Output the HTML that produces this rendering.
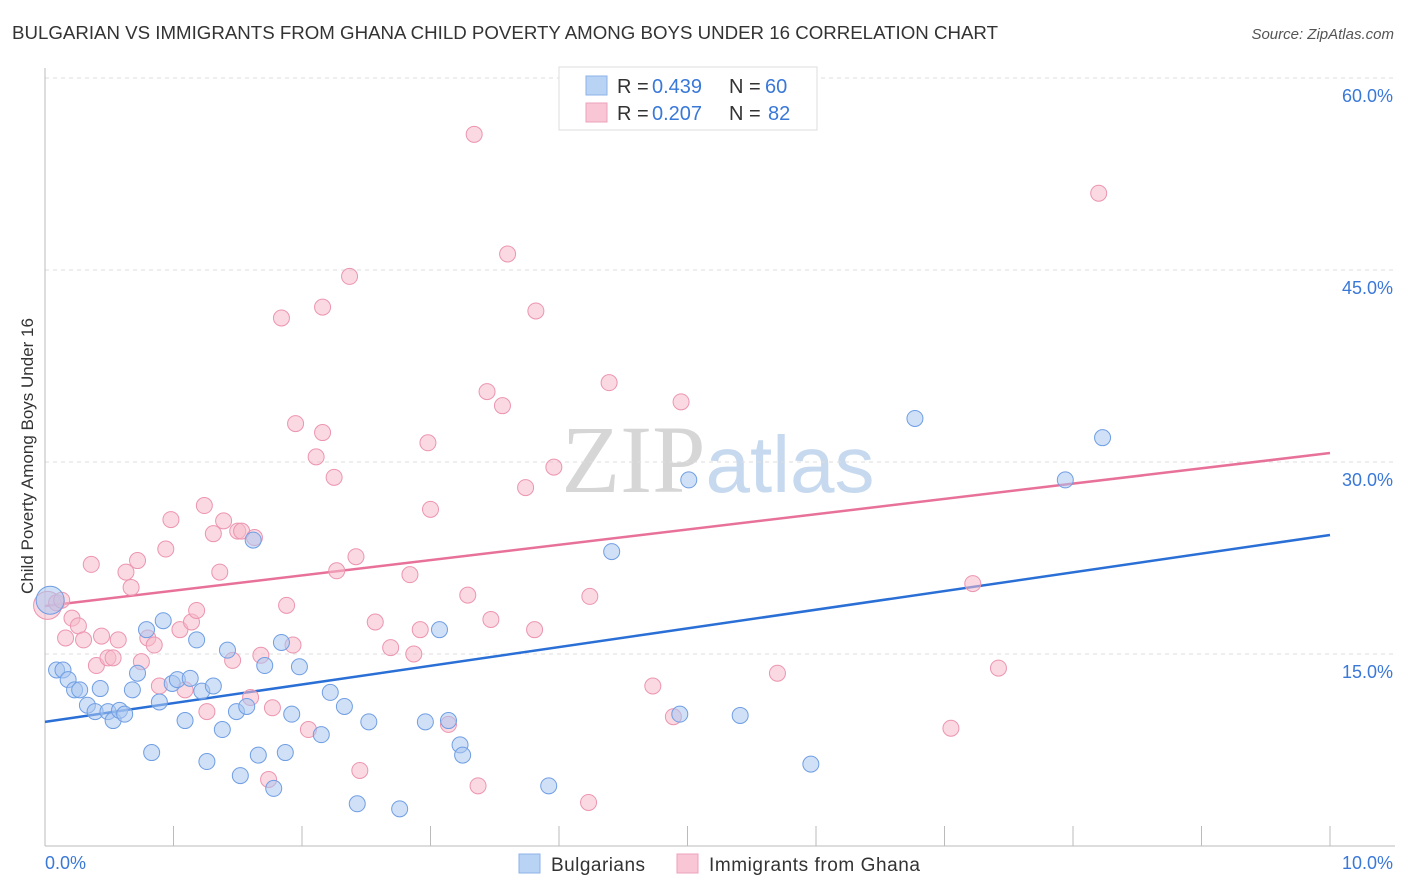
<!DOCTYPE html>
<html><head><meta charset="utf-8"><style>
body{margin:0;background:#fff;font-family:"Liberation Sans",sans-serif;}
svg{display:block}
</style></head><body>
<svg id="chart" width="1406" height="892" xmlns="http://www.w3.org/2000/svg">
<text x="12" y="39" font-size="18" fill="#333" textLength="986" lengthAdjust="spacingAndGlyphs">BULGARIAN VS IMMIGRANTS FROM GHANA CHILD POVERTY AMONG BOYS UNDER 16 CORRELATION CHART</text>
<text x="1394" y="39" font-size="15" fill="#555" text-anchor="end" font-style="italic">Source: ZipAtlas.com</text>
<text transform="translate(33,456) rotate(-90)" font-size="17" fill="#333" text-anchor="middle">Child Poverty Among Boys Under 16</text>
<text x="718" y="492" font-size="96" text-anchor="middle" fill="#dde3ea"><tspan font-family="Liberation Serif" fill="#d6d6d6">ZIP</tspan><tspan fill="#c6d9ef" font-size="80">atlas</tspan></text>
<g id="grid"></g><g id="axes"></g><g id="trend"></g><g id="pts"></g>
<g>
<rect x="559" y="67" width="258" height="63" fill="#fff" stroke="#ddd"/>
<rect x="586" y="76" width="21" height="19" fill="#b9d3f5" stroke="#8db3e8"/>
<rect x="586" y="103" width="21" height="19" fill="#f8c6d4" stroke="#eca3bb"/>
<text x="617" y="93" font-size="20" fill="#333">R =</text>
<text x="652" y="93" font-size="20" fill="#3a78d8">0.439</text>
<text x="729" y="93" font-size="20" fill="#333">N =</text>
<text x="765" y="93" font-size="20" fill="#3a78d8">60</text>
<text x="617" y="120" font-size="20" fill="#333">R =</text>
<text x="652" y="120" font-size="20" fill="#3a78d8">0.207</text>
<text x="729" y="120" font-size="20" fill="#333">N =</text>
<text x="768" y="120" font-size="20" fill="#3a78d8">82</text>
</g>
<g>
<rect x="519" y="854" width="21" height="19" fill="#b9d3f5" stroke="#8db3e8"/>
<text x="551" y="871" font-size="19" fill="#333" textLength="94">Bulgarians</text>
<rect x="677" y="854" width="21" height="19" fill="#f8c6d4" stroke="#eca3bb"/>
<text x="709" y="871" font-size="19" fill="#333" textLength="211">Immigrants from Ghana</text>
</g>
</svg>
<script>
const yTicks=[15,30,45,60];
const xTickLabels=["0.0%","10.0%"];
const blueX=[.04,.09,.14,.18,.23,.27,.33,.39,.43,.49,.53,.58,.62,.68,.72,.79,.83,.89,.92,.99,1.03,1.09,1.13,1.18,1.22,1.26,1.31,1.38,1.42,1.49,1.52,1.57,1.62,1.66,1.71,1.78,1.84,1.87,1.92,1.98,2.15,2.22,2.33,2.43,2.52,2.76,2.96,3.07,3.14,3.23,3.25,3.92,4.41,4.94,5.01,5.41,5.96,6.77,7.94,8.23];
const blueY=[19.2,13.75,13.75,13.0,12.2,12.2,11.0,10.5,12.3,10.5,9.8,10.6,10.3,12.2,13.5,16.9,7.3,11.25,17.6,12.7,13.0,9.8,13.1,16.1,12.1,6.6,12.5,9.1,15.3,10.5,5.5,10.9,23.9,7.1,14.1,4.5,15.9,7.3,10.3,14.0,8.7,12.0,10.9,3.3,9.7,2.9,9.7,16.9,9.8,7.9,7.1,4.7,23.0,10.3,28.6,10.2,6.4,33.4,28.6,31.9];
const pinkX=[.02,.09,.13,.16,.21,.26,.30,.36,.40,.44,.49,.53,.57,.63,.67,.72,.75,.80,.85,.89,.94,.98,1.05,1.09,1.14,1.18,1.24,1.26,1.31,1.36,1.39,1.46,1.50,1.53,1.60,1.63,1.68,1.74,1.77,1.84,1.88,1.93,1.95,2.05,2.11,2.16,2.16,2.25,2.27,2.37,2.42,2.45,2.57,2.69,2.84,2.87,2.92,2.98,3.00,3.14,3.29,3.34,3.37,3.44,3.47,3.56,3.60,3.74,3.81,3.82,3.96,4.23,4.24,4.39,4.73,4.89,4.95,5.70,7.05,7.22,7.42,8.20];
const pinkY=[18.8,19.0,19.2,16.25,17.8,17.2,16.1,22.0,14.1,16.4,14.7,14.7,16.1,21.4,20.2,22.3,14.4,16.25,15.7,12.5,23.2,25.5,16.9,12.2,17.5,18.4,26.6,10.5,24.4,21.4,25.4,14.5,24.6,24.6,11.6,24.1,14.9,5.2,10.8,41.25,18.8,15.7,33.0,9.1,30.4,42.1,32.3,28.8,21.5,44.5,22.6,5.9,17.5,15.5,21.2,15.0,16.9,31.5,26.3,9.5,19.6,55.6,4.7,35.5,17.7,34.4,46.25,28.0,16.9,41.8,29.6,3.4,19.5,36.2,12.5,10.1,34.7,13.5,9.2,20.5,13.9,51.0];
const blueTrend=[9.7,24.3];
const pinkTrend=[18.75,30.7];
const NS="http://www.w3.org/2000/svg";
const X=v=>45+v*128.5, Y=v=>846-v*12.8;
function mk(tag,attrs,parent){const e=document.createElementNS(NS,tag);for(const k in attrs)e.setAttribute(k,attrs[k]);parent.appendChild(e);return e;}
const grid=document.getElementById('grid'),axes=document.getElementById('axes'),trend=document.getElementById('trend'),pts=document.getElementById('pts');
yTicks.forEach(t=>{
 const l=mk('line',{x1:45,x2:1395,y1:Y(t),y2:Y(t),stroke:'#ddd','stroke-dasharray':'4,4'},grid);
 
 
 const tx=mk('text',{x:1393,y:Y(t)+24,'font-size':18,fill:'#3a78d8','text-anchor':'end'},grid);
 tx.textContent=t.toFixed(1)+'%';
 
 
});
const ax=mk('line',{x1:45,x2:45,y1:68,y2:846,stroke:'#bbb'},axes);


const bx=mk('line',{x1:45,x2:1395,y1:846,y2:846,stroke:'#bbb'},axes);


for(let i=0;i<=10;i++){
 const t=mk('line',{x1:X(i),x2:X(i),y1:826,y2:846,stroke:'#bbb'},axes);
 
 
}
[[0,'start',45],[10,'end',1393]].forEach((d,i)=>{
 const t=mk('text',{x:d[2],y:869,'font-size':18,fill:'#3a78d8','text-anchor':d[1]},axes);
 t.textContent=xTickLabels[i];
 
 
});
function series(xs,ys,fill,stroke,name){
 xs.forEach((x,i)=>{
  const r=(i===0)?14:8;
  const c=mk('circle',{cx:X(x),cy:Y(ys[i]),r:r,fill:fill,'fill-opacity':0.55,stroke:stroke,'stroke-width':1},pts);
  
  
 });
}
series(pinkX,pinkY,'#f6b9cb','#ec95b0','ghana');
series(blueX,blueY,'#a9c6f0','#6f9ee3','bulgarian');
const bl=mk('line',{x1:X(0),y1:Y(blueTrend[0]),x2:X(10),y2:Y(blueTrend[1]),stroke:'#2a6fd6','stroke-width':2.5},trend);


const pl=mk('line',{x1:X(0),y1:Y(pinkTrend[0]),x2:X(10),y2:Y(pinkTrend[1]),stroke:'#e8719a','stroke-width':2.5},trend);


</script>
</body></html>
